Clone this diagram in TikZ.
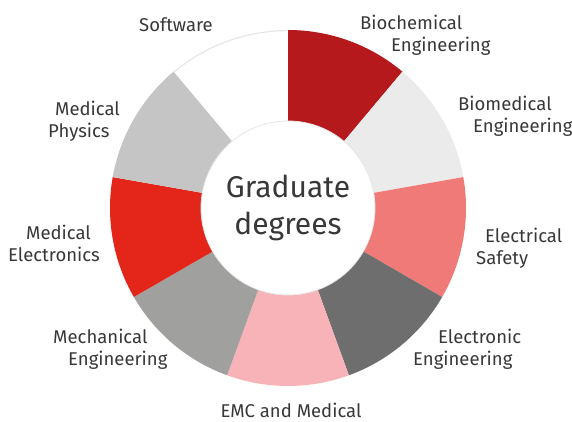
\documentclass[tikz,border=0pt]{standalone}
\usepackage{fontspec}
\setmainfont{Fira Sans}
\usepackage{xcolor}
\definecolor{biochem}{HTML}{B5191B}
\definecolor{biomed}{HTML}{EBEBEB}
\definecolor{safety}{HTML}{EF7A78}
\definecolor{electronic}{HTML}{6E6E6E}
\definecolor{emc}{HTML}{F7B3B8}
\definecolor{mechanical}{HTML}{A0A09E}
\definecolor{medelec}{HTML}{E32619}
\definecolor{medphys}{HTML}{C5C5C5}
\definecolor{rimgray}{HTML}{E6E6E6}
\definecolor{txtgray}{HTML}{383838}

\begin{document}
\begin{tikzpicture}[x=1pt,y=1pt,
    degree/.style={text=txtgray,font=\fontsize{18.5}{22}\selectfont,inner sep=0pt,align=left}]

\useasboundingbox (0,0) rectangle (572,422);
\coordinate (C) at (288,214);

% ring segments, clockwise from the top
\fill[biochem] (C) -- ++(50:178) arc (50:90:178) -- cycle;
\fill[biomed] (C) -- ++(10:178) arc (10:50:178) -- cycle;
\fill[safety] (C) -- ++(-30:178) arc (-30:10:178) -- cycle;
\fill[electronic] (C) -- ++(-70:178) arc (-70:-30:178) -- cycle;
\fill[emc] (C) -- ++(-110:178) arc (-110:-70:178) -- cycle;
\fill[mechanical] (C) -- ++(-150:178) arc (-150:-110:178) -- cycle;
\fill[medelec] (C) -- ++(170:178) arc (170:210:178) -- cycle;
\fill[medphys] (C) -- ++(130:178) arc (130:170:178) -- cycle;
\draw[rimgray, line width=1.2pt] ([shift={(90:177.4)}]C) arc (90:130:177.4);

\node[circle, fill=white, draw=rimgray, line width=0.8pt, minimum size=174pt, inner sep=0pt,
      text=txtgray, align=center, font=\fontsize{30}{37}\selectfont] (G) at (C) {Graduate\\degrees};

\node[degree, anchor=west] (biochemN) at (360,386.5) {Biochemical\\\hspace*{31pt}Engineering};
\node[degree, anchor=west] (biomedN) at (458,305.5) {Biomedical\\\hspace*{15pt}Engineering};
\node[degree, anchor=west] (safetyN) at (476,173.5) {\hspace*{9pt}Electrical\\Safety};
\node[degree, anchor=west] (electronicN) at (413,72.5) {\hspace*{25pt}Electronic\\Engineering};
\node[degree, anchor=base] (emcN) at (291,4) {EMC and Medical};
\node[degree, anchor=west] (mechanicalN) at (53,73) {Mechanical\\\hspace*{15pt}Engineering};
\node[degree, anchor=west] (medelecN) at (8,179) {\hspace*{18pt}Medical\\Electronics};
\node[degree, anchor=west] (medphysN) at (48,300.5) {\hspace*{7pt}Medical\\Physics};
\node[degree] (softwareN) at (176,397) {Software};

\end{tikzpicture}
\end{document}
